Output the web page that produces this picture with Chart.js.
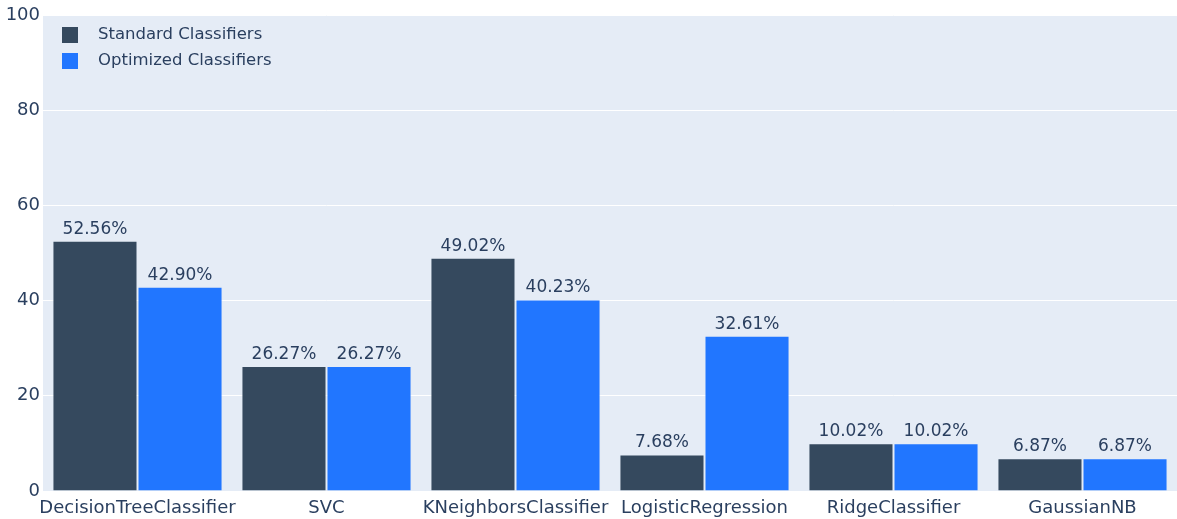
<!DOCTYPE html>
<html>
<head>
<meta charset="utf-8">
<script src="https://cdn.jsdelivr.net/npm/chart.js@4/dist/chart.umd.min.js"></script>
<style>
  html, body { margin: 0; padding: 0; background: #fff; }
  #wrap { width: 1177px; height: 519px; }
</style>
</head>
<body>
<div id="wrap"><canvas id="accuracyChart"></canvas></div>
<script>
// Accuracy of each classifier, before and after tuning
const CLASSIFIERS = ['DecisionTreeClassifier', 'SVC', 'KNeighborsClassifier', 'LogisticRegression', 'RidgeClassifier', 'GaussianNB'];
const STANDARD = [52.56, 26.27, 49.02, 7.68, 10.02, 6.87];
const OPTIMIZED = [42.90, 26.27, 40.23, 32.61, 10.02, 6.87];
const Y_TICKS = [0, 20, 40, 60, 80, 100];

const TEXT_COLOR = '#2a3f5f';
const FONT = 'DejaVu Sans';

// plot background
const plotBackground = {
    id: 'plotBackground',
    beforeDraw(chart) {
        const { ctx, chartArea: a } = chart;
        ctx.save();
        ctx.fillStyle = '#e5ecf6';
        ctx.fillRect(a.left, a.top, a.right - a.left, a.bottom - a.top);
        ctx.restore();
    }
};

// value text above every bar
const barValues = {
    id: 'barValues',
    afterDatasetsDraw(chart) {
        const ctx = chart.ctx;
        ctx.save();
        ctx.font = '17px "' + FONT + '"';
        ctx.fillStyle = TEXT_COLOR;
        ctx.textAlign = 'center';
        ctx.textBaseline = 'bottom';
        chart.data.datasets.forEach((ds, i) => {
            chart.getDatasetMeta(i).data.forEach((bar, j) => {
                ctx.fillText(ds.data[j].toFixed(2) + '%', bar.x, bar.y - 3);
            });
        });
        ctx.restore();
    }
};

// legend drawn inside the plot, top left
const insideLegend = {
    id: 'insideLegend',
    afterDraw(chart) {
        const { ctx, chartArea: a } = chart;
        ctx.save();
        ctx.font = '16.5px "' + FONT + '"';
        ctx.textBaseline = 'middle';
        chart.data.datasets.forEach((ds, i) => {
            const y = a.top + 20 + i * 26;
            ctx.fillStyle = ds.backgroundColor;
            ctx.fillRect(a.left + 19, y - 8, 16, 16);
            ctx.fillStyle = TEXT_COLOR;
            ctx.fillText(ds.label, a.left + 55, y);
        });
        ctx.restore();
    }
};

new Chart(document.getElementById('accuracyChart'), {
    type: 'bar',
    data: {
        labels: CLASSIFIERS,
        datasets: [
            {
                label: 'Standard Classifiers',
                data: STANDARD,
                backgroundColor: '#35495e',
                borderColor: 'rgba(229,236,246,0.6)',
                borderWidth: 1,
                borderSkipped: 'bottom'
            },
            {
                label: 'Optimized Classifiers',
                data: OPTIMIZED,
                backgroundColor: '#2176ff',
                borderColor: 'rgba(229,236,246,0.6)',
                borderWidth: 1,
                borderSkipped: 'bottom'
            }
        ]
    },
    options: {
        responsive: true,
        maintainAspectRatio: false,
        animation: false,
        layout: { padding: { top: 15, right: 0, left: 0, bottom: 0 } },
        datasets: { bar: { categoryPercentage: 0.9, barPercentage: 1.0 } },
        plugins: {
            legend: { display: false },
            tooltip: { enabled: false }
        },
        scales: {
            x: {
                grid: { display: false },
                border: { display: false },
                ticks: {
                    color: TEXT_COLOR,
                    font: { family: FONT, size: 18 },
                    padding: -1,
                    maxRotation: 0,
                    autoSkip: false
                },
                afterFit(scale) { scale.height = 28; }
            },
            y: {
                min: 0,
                max: 100,
                afterBuildTicks(scale) { scale.ticks = Y_TICKS.map(v => ({ value: v })); },
                grid: { color: '#ffffff', lineWidth: 1, drawTicks: false },
                border: { display: false },
                ticks: {
                    color: TEXT_COLOR,
                    font: { family: FONT, size: 18 },
                    padding: 3
                },
                afterFit(scale) { scale.width = 43; }
            }
        }
    },
    plugins: [plotBackground, barValues, insideLegend]
});
</script>
</body>
</html>
